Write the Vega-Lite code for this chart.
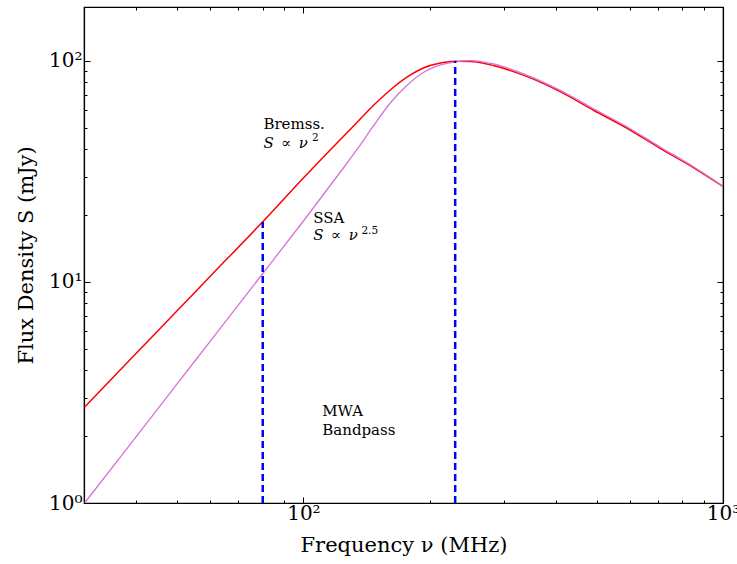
{
  "$schema": "https://vega.github.io/schema/vega-lite/v6.json",
  "width": 639,
  "height": 496,
  "autosize": {"type": "none"},
  "padding": {"left": 84, "top": 7, "right": 14, "bottom": 61},
  "background": "white",
  "config": {
    "view": {"stroke": "black", "strokeWidth": 1.2},
    "font": "DejaVu Serif",
    "axis": {
      "domainColor": "black",
      "domainWidth": 1.2,
      "tickColor": "black",
      "tickWidth": 1,
      "grid": false,
      "labelFont": "DejaVu Serif",
      "labelFontSize": 20,
      "labelColor": "black",
      "titleFont": "DejaVu Serif",
      "titleFontSize": 21,
      "titleFontWeight": "normal",
      "titleColor": "black",
      "labelOverlap": false,
      "labelBound": false,
      "labelFlush": false
    }
  },
  "datasets": {
    "bremss": [
      {"nu": 30.1, "S": 2.718},
      {"nu": 40, "S": 4.768},
      {"nu": 50, "S": 7.408},
      {"nu": 60, "S": 10.62},
      {"nu": 79.87, "S": 18.68},
      {"nu": 100, "S": 29.55},
      {"nu": 122.5, "S": 44.15},
      {"nu": 134.5, "S": 52.96},
      {"nu": 146.8, "S": 62.88},
      {"nu": 161.1, "S": 73.93},
      {"nu": 176.9, "S": 84.65},
      {"nu": 193.1, "S": 92.97},
      {"nu": 212.0, "S": 97.94},
      {"nu": 230.1, "S": 99.69},
      {"nu": 249.8, "S": 99.4},
      {"nu": 283.5, "S": 95.42},
      {"nu": 341.6, "S": 84.92},
      {"nu": 409.2, "S": 72.63},
      {"nu": 490.3, "S": 60.02},
      {"nu": 590.8, "S": 49.61},
      {"nu": 707.9, "S": 40.27},
      {"nu": 848.3, "S": 33.04},
      {"nu": 1000, "S": 27.05}
    ],
    "ssa": [
      {"nu": 30.1, "S": 1.0},
      {"nu": 40, "S": 2.004},
      {"nu": 50, "S": 3.459},
      {"nu": 60, "S": 5.401},
      {"nu": 70, "S": 7.874},
      {"nu": 79.87, "S": 10.87},
      {"nu": 100, "S": 18.88},
      {"nu": 122.5, "S": 31.46},
      {"nu": 134.5, "S": 39.98},
      {"nu": 146.8, "S": 50.8},
      {"nu": 161.1, "S": 64.55},
      {"nu": 176.9, "S": 77.88},
      {"nu": 193.1, "S": 88.71},
      {"nu": 212.0, "S": 95.92},
      {"nu": 230.1, "S": 99.17},
      {"nu": 249.8, "S": 100.42},
      {"nu": 283.5, "S": 96.92},
      {"nu": 341.6, "S": 86.16},
      {"nu": 409.2, "S": 73.69},
      {"nu": 490.3, "S": 60.96},
      {"nu": 590.8, "S": 50.27},
      {"nu": 707.9, "S": 40.82},
      {"nu": 848.3, "S": 33.32},
      {"nu": 1000, "S": 27.14}
    ],
    "cuts": [
      {"nu": 80, "lo": 1, "hi": 18.7},
      {"nu": 230, "lo": 1, "hi": 100}
    ],
    "plain": [
      {"nu": 80.3, "S": 51.8, "t": "Bremss."},
      {"nu": 105.6, "S": 19.5, "t": "SSA"},
      {"nu": 110.9, "S": 2.608, "t": "MWA"},
      {"nu": 110.9, "S": 2.14, "t": "Bandpass"}
    ],
    "math": [
      {"nu": 80.3, "S": 42.56, "t": "S\u2002\u221d\u2002\u03bd"},
      {"nu": 105.6, "S": 16.32, "t": "S\u2002\u221d\u2002\u03bd"}
    ],
    "sup": [
      {"nu": 104.9, "S": 44.6, "t": "2"},
      {"nu": 137.5, "S": 16.93, "t": "2.5"}
    ]
  },
  "layer": [
    {
      "data": {"name": "bremss"},
      "mark": {"type": "line", "color": "#ff0000", "strokeWidth": 1.5, "interpolate": "monotone", "clip": true},
      "encoding": {
        "x": {
          "field": "nu", "type": "quantitative",
          "scale": {"type": "log", "domain": [30, 1000], "nice": false},
          "axis": {
            "orient": "bottom",
            "title": "Frequency ν (MHz)",
            "values": [30, 40, 50, 60, 70, 80, 90, 100, 200, 300, 400, 500, 600, 700, 800, 900, 1000],
            "labelExpr": "datum.value == 100 ? '10²' : datum.value == 1000 ? '10³' : ''",
            "tickSize": {"condition": {"test": "datum.value == 100 || datum.value == 1000", "value": -6}, "value": -3},
            "labelPadding": 6,
            "titlePadding": 8
          }
        },
        "y": {
          "field": "S", "type": "quantitative",
          "scale": {"type": "log", "domain": [1, 175.5], "nice": false},
          "axis": {
            "orient": "left",
            "title": "Flux Density S (mJy)",
            "values": [1, 2, 3, 4, 5, 6, 7, 8, 9, 10, 20, 30, 40, 50, 60, 70, 80, 90, 100],
            "labelExpr": "datum.value == 1 ? '10⁰' : datum.value == 10 ? '10¹' : datum.value == 100 ? '10²' : ''",
            "tickSize": {"condition": {"test": "datum.value == 1 || datum.value == 10 || datum.value == 100", "value": -6}, "value": -3},
            "labelPadding": 8,
            "titlePadding": 12
          }
        }
      }
    },
    {
      "data": {"name": "ssa"},
      "mark": {"type": "line", "color": "#da70d6", "strokeWidth": 1.3, "interpolate": "monotone", "clip": true},
      "encoding": {
        "x": {
          "field": "nu", "type": "quantitative",
          "axis": {
            "orient": "top", "title": null, "labels": false,
            "values": [30, 40, 50, 60, 70, 80, 90, 100, 200, 300, 400, 500, 600, 700, 800, 900, 1000],
            "tickSize": {"condition": {"test": "datum.value == 100 || datum.value == 1000", "value": -6}, "value": -3}
          }
        },
        "y": {
          "field": "S", "type": "quantitative",
          "axis": {
            "orient": "right", "title": null, "labels": false,
            "values": [1, 2, 3, 4, 5, 6, 7, 8, 9, 10, 20, 30, 40, 50, 60, 70, 80, 90, 100],
            "tickSize": {"condition": {"test": "datum.value == 1 || datum.value == 10 || datum.value == 100", "value": -6}, "value": -3}
          }
        }
      }
    },
    {
      "data": {"name": "cuts"},
      "mark": {"type": "rule", "color": "#0000ff", "strokeWidth": 2.5, "strokeDash": [7, 4]},
      "encoding": {
        "x": {"field": "nu", "type": "quantitative", "axis": null},
        "y": {"field": "lo", "type": "quantitative", "axis": null},
        "y2": {"field": "hi"}
      }
    },
    {
      "data": {"name": "plain"},
      "mark": {"type": "text", "align": "left", "baseline": "middle", "font": "DejaVu Serif", "fontSize": 15, "color": "black"},
      "encoding": {
        "x": {"field": "nu", "type": "quantitative", "axis": null},
        "y": {"field": "S", "type": "quantitative", "axis": null},
        "text": {"field": "t"}
      }
    },
    {
      "data": {"name": "math"},
      "mark": {"type": "text", "align": "left", "baseline": "middle", "font": "DejaVu Serif", "fontStyle": "italic", "fontSize": 15, "color": "black"},
      "encoding": {
        "x": {"field": "nu", "type": "quantitative", "axis": null},
        "y": {"field": "S", "type": "quantitative", "axis": null},
        "text": {"field": "t"}
      }
    },
    {
      "data": {"name": "sup"},
      "mark": {"type": "text", "align": "left", "baseline": "middle", "font": "DejaVu Serif", "fontSize": 10.5, "color": "black"},
      "encoding": {
        "x": {"field": "nu", "type": "quantitative", "axis": null},
        "y": {"field": "S", "type": "quantitative", "axis": null},
        "text": {"field": "t"}
      }
    }
  ],
  "resolve": {"axis": {"x": "independent", "y": "independent"}}
}
